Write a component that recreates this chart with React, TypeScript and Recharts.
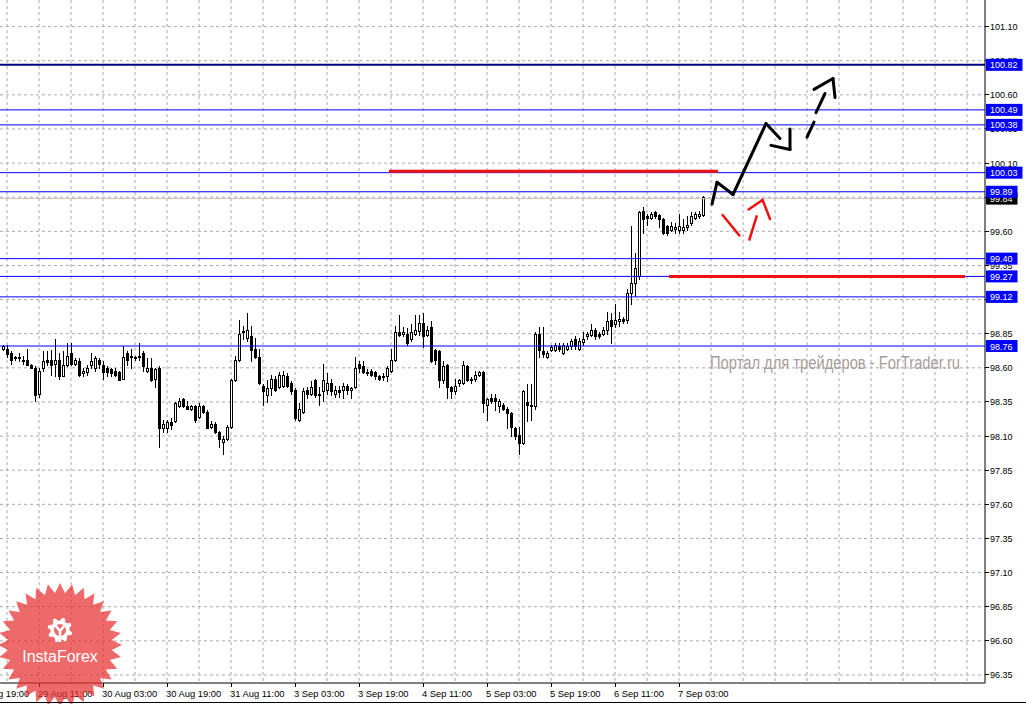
import React from "react";
import { ComposedChart, Bar, XAxis, YAxis, CartesianGrid, ReferenceLine } from "recharts";

// hourly candles, index 0 = 29 Aug 02:00
const opens = [
  98.74, 98.74, 98.71, 98.68, 98.68, 98.66, 98.66, 98.62, 98.6, 98.41, 98.6, 98.66, 98.66, 98.63, 98.66, 98.54,
  98.62, 98.71, 98.63, 98.65, 98.56, 98.57, 98.62, 98.6, 98.66, 98.62, 98.6, 98.59, 98.58, 98.57, 98.52, 98.71,
  98.68, 98.68, 98.69, 98.71, 98.58, 98.6, 98.52, 98.6, 98.16, 98.16, 98.2, 98.21, 98.32, 98.37, 98.32, 98.3,
  98.32, 98.24, 98.32, 98.28, 98.17, 98.19, 98.13, 98.06, 98.08, 98.17, 98.51, 98.66, 98.86, 98.82, 98.83, 98.74,
  98.68, 98.47, 98.4, 98.45, 98.52, 98.46, 98.47, 98.54, 98.49, 98.44, 98.22, 98.28, 98.44, 98.41, 98.51, 98.41,
  98.43, 98.44, 98.49, 98.41, 98.44, 98.44, 98.47, 98.44, 98.46, 98.63, 98.61, 98.57, 98.58, 98.57, 98.54, 98.53,
  98.54, 98.58, 98.66, 98.86, 98.85, 98.85, 98.81, 98.85, 98.87, 98.93, 98.84, 98.9, 98.73, 98.72, 98.51, 98.62,
  98.46, 98.43, 98.49, 98.49, 98.61, 98.52, 98.52, 98.55, 98.57, 98.33, 98.38, 98.38, 98.32, 98.33, 98.3, 98.27,
  98.16, 98.11, 98.05, 98.35, 98.32, 98.32, 98.85, 98.72, 98.68, 98.73, 98.73, 98.76, 98.71, 98.74, 98.76, 98.81,
  98.74, 98.79, 98.83, 98.84, 98.88, 98.85, 98.85, 98.88, 98.95, 98.92, 98.94, 98.96, 98.95, 99.15, 99.22, 99.27,
  99.75, 99.71, 99.7, 99.74, 99.72, 99.69, 99.64, 99.61, 99.62, 99.61, 99.61, 99.63, 99.66, 99.7, 99.71, 99.72,
];
const highs = [
  98.77, 98.77, 98.72, 98.69, 98.71, 98.69, 98.74, 98.63, 98.61, 98.6, 98.72, 98.72, 98.73, 98.81, 98.71, 98.72,
  98.78, 98.78, 98.67, 98.67, 98.6, 98.62, 98.71, 98.69, 98.67, 98.65, 98.61, 98.6, 98.6, 98.58, 98.76, 98.72,
  98.74, 98.69, 98.78, 98.72, 98.67, 98.67, 98.6, 98.61, 98.22, 98.22, 98.23, 98.35, 98.38, 98.38, 98.36, 98.33,
  98.33, 98.34, 98.33, 98.29, 98.21, 98.2, 98.14, 98.1, 98.18, 98.52, 98.69, 98.95, 98.91, 99.0, 98.91, 98.82,
  98.74, 98.48, 98.51, 98.55, 98.54, 98.57, 98.58, 98.56, 98.5, 98.45, 98.34, 98.45, 98.46, 98.5, 98.52, 98.46,
  98.63, 98.56, 98.52, 98.47, 98.47, 98.49, 98.48, 98.46, 98.68, 98.65, 98.65, 98.59, 98.59, 98.58, 98.55, 98.56,
  98.61, 98.74, 98.91, 98.99, 98.9, 98.89, 98.92, 98.99, 98.99, 99.0, 98.91, 98.94, 98.74, 98.73, 98.65, 98.63,
  98.47, 98.52, 98.52, 98.65, 98.62, 98.53, 98.58, 98.58, 98.58, 98.38, 98.41, 98.41, 98.37, 98.34, 98.31, 98.28,
  98.17, 98.17, 98.44, 98.48, 98.48, 98.86, 98.9, 98.9, 98.72, 98.77, 98.78, 98.78, 98.78, 98.78, 98.81, 98.83,
  98.82, 98.86, 98.86, 98.92, 98.89, 98.86, 98.9, 99.01, 99.0, 99.07, 99.01, 98.97, 99.18, 99.64, 99.44, 99.75,
  99.78, 99.73, 99.74, 99.75, 99.73, 99.7, 99.65, 99.67, 99.66, 99.73, 99.69, 99.71, 99.74, 99.74, 99.75, 99.86,
];
const lows = [
  98.73, 98.68, 98.63, 98.66, 98.65, 98.63, 98.62, 98.6, 98.36, 98.39, 98.58, 98.62, 98.55, 98.54, 98.52, 98.54,
  98.61, 98.62, 98.62, 98.54, 98.54, 98.55, 98.6, 98.58, 98.6, 98.52, 98.54, 98.54, 98.54, 98.51, 98.52, 98.62,
  98.6, 98.66, 98.66, 98.58, 98.57, 98.5, 98.46, 98.02, 98.13, 98.13, 98.15, 98.2, 98.31, 98.31, 98.3, 98.29,
  98.2, 98.23, 98.27, 98.16, 98.16, 98.12, 98.02, 97.97, 98.07, 98.16, 98.5, 98.65, 98.81, 98.8, 98.65, 98.67,
  98.48, 98.33, 98.35, 98.4, 98.43, 98.45, 98.46, 98.46, 98.41, 98.22, 98.21, 98.27, 98.38, 98.4, 98.39, 98.33,
  98.36, 98.41, 98.4, 98.39, 98.39, 98.38, 98.41, 98.38, 98.45, 98.57, 98.56, 98.55, 98.54, 98.52, 98.51, 98.51,
  98.5, 98.57, 98.65, 98.83, 98.83, 98.77, 98.8, 98.84, 98.84, 98.75, 98.83, 98.64, 98.63, 98.46, 98.49, 98.38,
  98.38, 98.41, 98.47, 98.48, 98.5, 98.49, 98.5, 98.54, 98.28, 98.22, 98.34, 98.29, 98.28, 98.29, 98.16, 98.1,
  98.08, 97.97, 98.04, 98.21, 98.22, 98.3, 98.68, 98.68, 98.67, 98.72, 98.72, 98.72, 98.7, 98.73, 98.74, 98.74,
  98.73, 98.77, 98.81, 98.83, 98.81, 98.82, 98.84, 98.85, 98.78, 98.9, 98.91, 98.93, 98.93, 99.07, 99.13, 99.25,
  99.59, 99.65, 99.69, 99.7, 99.63, 99.58, 99.57, 99.6, 99.59, 99.59, 99.59, 99.61, 99.65, 99.69, 99.7, 99.71,
];
const closes = [
  98.76, 98.7, 98.66, 98.67, 98.67, 98.65, 98.62, 98.6, 98.4, 98.58, 98.65, 98.64, 98.62, 98.66, 98.54, 98.62,
  98.69, 98.63, 98.66, 98.55, 98.58, 98.6, 98.65, 98.67, 98.63, 98.57, 98.57, 98.56, 98.55, 98.51, 98.68, 98.66,
  98.69, 98.67, 98.68, 98.61, 98.6, 98.51, 98.59, 98.16, 98.19, 98.2, 98.18, 98.34, 98.36, 98.32, 98.3, 98.32,
  98.22, 98.32, 98.28, 98.16, 98.19, 98.13, 98.08, 98.08, 98.17, 98.51, 98.66, 98.85, 98.87, 98.88, 98.73, 98.68,
  98.49, 98.43, 98.45, 98.52, 98.44, 98.55, 98.55, 98.47, 98.43, 98.23, 98.3, 98.43, 98.41, 98.46, 98.4, 98.4,
  98.51, 98.49, 98.43, 98.44, 98.42, 98.47, 98.44, 98.45, 98.6, 98.6, 98.57, 98.56, 98.55, 98.54, 98.52, 98.54,
  98.6, 98.66, 98.86, 98.84, 98.86, 98.78, 98.86, 98.88, 98.93, 98.83, 98.88, 98.65, 98.66, 98.51, 98.61, 98.46,
  98.43, 98.47, 98.51, 98.62, 98.51, 98.51, 98.55, 98.57, 98.34, 98.37, 98.36, 98.36, 98.36, 98.3, 98.27, 98.17,
  98.1, 98.05, 98.43, 98.33, 98.33, 98.85, 98.73, 98.7, 98.71, 98.75, 98.77, 98.74, 98.77, 98.76, 98.8, 98.76,
  98.8, 98.81, 98.85, 98.88, 98.83, 98.83, 98.88, 98.94, 98.91, 98.95, 98.96, 98.94, 99.15, 99.22, 99.33, 99.74,
  99.69, 99.7, 99.73, 99.71, 99.69, 99.59, 99.59, 99.64, 99.63, 99.64, 99.63, 99.65, 99.71, 99.73, 99.73, 99.85,
];

const timeLabels = [
  "28 Aug 19:00", "29 Aug 11:00", "30 Aug 03:00", "30 Aug 19:00", "31 Aug 11:00", "3 Sep 03:00",
  "3 Sep 19:00", "4 Sep 11:00", "5 Sep 03:00", "5 Sep 19:00", "6 Sep 11:00", "7 Sep 03:00",
];
const labelBars = [-7, 9, 25, 41, 57, 73, 89, 105, 121, 137, 153, 169];
const gridBars = [1, 9, 17, 25, 33, 41, 49, 57, 65, 73, 81, 89, 97, 105, 113, 121, 129, 137, 145, 153, 161, 169, 177, 185, 193, 201, 209, 217, 225, 233, 241];

const priceTicks = [
  96.35, 96.6, 96.85, 97.1, 97.35, 97.6, 97.85, 98.1, 98.35, 98.6,
  98.85, 99.1, 99.35, 99.6, 99.85, 100.1, 100.35, 100.6, 100.85, 101.1,
];
const levels = [100.82, 100.49, 100.38, 100.03, 99.89, 99.4, 99.27, 99.12, 98.76];
const bidPrice = 99.84;

// hand drawn marks, [bar, price]
const redLines = [
  [[96.5, 100.04], [178.75, 100.04]],
  [[166.5, 99.27], [240.5, 99.27]],
];
const blackSolid = [
  [[177.25, 99.8], [178.5, 99.96], [182.5, 99.87], [190.75, 100.39], [194.25, 100.28]],
  [[192, 100.23], [196.75, 100.2], [196.75, 100.35]],
];
const blackDashed = [
  [[201, 100.29], [202.75, 100.4]],
  [[203.25, 100.47], [205.5, 100.61]],
  [[202.75, 100.64], [207.5, 100.72], [208, 100.58]],
];
const redArrow = [
  [[179.9, 99.72], [184.1, 99.57]],
  [[186.6, 99.54], [188.4, 99.71]],
  [[186.4, 99.76], [189.9, 99.83], [191.75, 99.69]],
];

const data = opens.map((o, i) => ({
  i,
  open: o,
  high: highs[i],
  low: lows[i],
  close: closes[i],
  range: [lows[i], highs[i]],
}));

const FONT = "'Liberation Sans', Arial, sans-serif";
const AXIS_X = 985;
const AXIS_Y = 683;

function Candle(props: any) {
  const { x, y, width, height, payload } = props;
  if (height == null || !payload) return null;
  const { open, close, high, low } = payload;
  const cx = Math.round(x + width / 2);
  const ppu = height / (high - low);
  const yOf = (v: number) => y + (high - v) * ppu;
  const top = Math.round(yOf(Math.max(open, close)));
  const bot = Math.round(yOf(Math.min(open, close)));
  const up = close >= open;
  return (
    <g shapeRendering="crispEdges">
      <line x1={cx + 0.5} x2={cx + 0.5} y1={Math.round(y)} y2={Math.round(y + height) + 1} stroke="#000" />
      {bot - top < 1 ? (
        <line x1={cx - 1} x2={cx + 2} y1={top + 0.5} y2={top + 0.5} stroke="#000" />
      ) : up ? (
        <rect x={cx - 0.5} y={top + 0.5} width={2} height={bot - top} fill="#fff" stroke="#000" />
      ) : (
        <rect x={cx - 1} y={top} width={3} height={bot - top + 1} fill="#000" />
      )}
    </g>
  );
}

function XTick(props: any) {
  const { x, payload } = props;
  const k = labelBars.indexOf(payload.value);
  return (
    <g>
      <line x1={x} x2={x} y1={AXIS_Y} y2={AXIS_Y + 4} stroke="#000" shapeRendering="crispEdges" />
      <text x={x - 1} y={697} fontSize={9.4} fontFamily={FONT} fill="#000" textAnchor="start">
        {timeLabels[k]}
      </text>
    </g>
  );
}

const textW = (s: string) => s.replace(".", "").length * 5 + 2.5;

function YTick(props: any) {
  const { y, payload } = props;
  const v = payload.value;
  const s = v.toFixed(2);
  if (levels.includes(v) || v === bidPrice) {
    const bg = v === bidPrice ? "#000" : "#0000ff";
    return (
      <g>
        <rect x={AXIS_X + 1} y={y - 6} width={textW(s) + 9} height={12} fill={bg} />
        <text x={AXIS_X + 5} y={y + 3.5} fontSize={9} fontFamily={FONT} fill="#fff">
          {s}
        </text>
      </g>
    );
  }
  return (
    <g>
      <line x1={AXIS_X} x2={AXIS_X + 4} y1={y} y2={y} stroke="#000" shapeRendering="crispEdges" />
      <text x={AXIS_X + 5} y={y + 3.5} fontSize={9} fontFamily={FONT} fill="#000">
        {s}
      </text>
    </g>
  );
}

function segments(paths: number[][][]) {
  const out: number[][][] = [];
  paths.forEach((p) => {
    for (let k = 0; k < p.length - 1; k++) out.push([p[k], p[k + 1]]);
  });
  return out;
}

function Logo() {
  const cx = 60;
  const cy = 645;
  const n = 32;
  const pts: string[] = [];
  for (let k = 0; k < n * 2; k++) {
    const r = k % 2 === 0 ? 62 : 52;
    const a = (Math.PI * k) / n - Math.PI / 2;
    pts.push(`${cx + r * Math.cos(a)},${cy + r * Math.sin(a)}`);
  }
  const gear: string[] = [];
  for (let k = 0; k < 32; k++) {
    const r = k % 4 < 2 ? 12.5 : 9.5;
    const a = (Math.PI * 2 * k) / 32 + Math.PI / 16;
    gear.push(`${cx + r * Math.cos(a)},${630 + r * Math.sin(a)}`);
  }
  return (
    <g>
      <polygon points={pts.join(" ")} fill="#e83030" fillOpacity={0.72} />
      <polygon points={gear.join(" ")} fill="#fff" />
      <circle cx={cx} cy={630} r={6} fill="#ef6a6a" />
      <path d="M55.5 625.5 L60 631 L64.5 625.5 M60 631 L60 642" stroke="#fff" strokeWidth={2.5} fill="none" />
      <text x={cx} y={662} fontSize={16} fontFamily={FONT} fill="#fff" textAnchor="middle">
        InstaForex
      </text>
    </g>
  );
}

export default function App() {
  const yTicks = [...priceTicks, bidPrice, ...levels];
  return (
    <div style={{ position: "relative", width: 1026, height: 704, background: "#fff", overflow: "hidden" }}>
      <style>{"body{margin:0}"}</style>
      <ComposedChart width={1026} height={704} data={data} margin={{ top: 0, right: 0, bottom: 0, left: 0 }}>
        <CartesianGrid
          horizontalValues={priceTicks}
          verticalValues={gridBars}
          stroke="#b0a6b0"
          strokeDasharray="3 3"
        />
        <XAxis
          type="number"
          dataKey="i"
          domain={[-0.75, 245.5]}
          allowDataOverflow
          ticks={labelBars}
          interval={0}
          tick={<XTick />}
          tickLine={false}
          axisLine={{ stroke: "#000" }}
          height={21}
        />
        <YAxis
          orientation="right"
          type="number"
          domain={[96.291, 101.295]}
          allowDataOverflow
          ticks={yTicks}
          interval={0}
          width={41}
          tick={<YTick />}
          tickLine={false}
          axisLine={{ stroke: "#000" }}
        />
        <ReferenceLine y={bidPrice} stroke="#c8c4bc" />
        {levels.map((v, k) => (
          <ReferenceLine
            key={`lv${v}`}
            y={v}
            stroke={k === 0 ? "#000080" : "#0000ff"}
            strokeWidth={k === 0 ? 2 : 1}
          />
        ))}
        <Bar dataKey="range" barSize={3} isAnimationActive={false} shape={(p: any) => <Candle {...p} />} />
        {redLines.map((s, k) => (
          <ReferenceLine
            key={`rl${k}`}
            segment={s.map(([x, y]) => ({ x, y }))}
            stroke="#f01010"
            strokeWidth={3}
            ifOverflow="visible"
          />
        ))}
        {segments(blackSolid).map((s, k) => (
          <ReferenceLine
            key={`bs${k}`}
            segment={s.map(([x, y]) => ({ x, y }))}
            stroke="#000"
            strokeWidth={3}
            strokeLinecap="round"
            ifOverflow="visible"
          />
        ))}
        {segments(blackDashed).map((s, k) => (
          <ReferenceLine
            key={`bd${k}`}
            segment={s.map(([x, y]) => ({ x, y }))}
            stroke="#000"
            strokeWidth={3}
            strokeLinecap="round"
            ifOverflow="visible"
          />
        ))}
        {segments(redArrow).map((s, k) => (
          <ReferenceLine
            key={`ra${k}`}
            segment={s.map(([x, y]) => ({ x, y }))}
            stroke="#f01010"
            strokeWidth={2.5}
            strokeLinecap="round"
            ifOverflow="visible"
          />
        ))}
      </ComposedChart>
      <svg width={1026} height={704} style={{ position: "absolute", left: 0, top: 0, pointerEvents: "none" }}>
        <text x={710} y={369} fontSize={18} fontFamily={FONT} fill="#a89c9c" textLength={250} lengthAdjust="spacingAndGlyphs">
          Портал для трейдеров - ForTrader.ru
        </text>
        <Logo />
        <line x1={0} x2={1026} y1={702.5} y2={702.5} stroke="#000" />
      </svg>
    </div>
  );
}
